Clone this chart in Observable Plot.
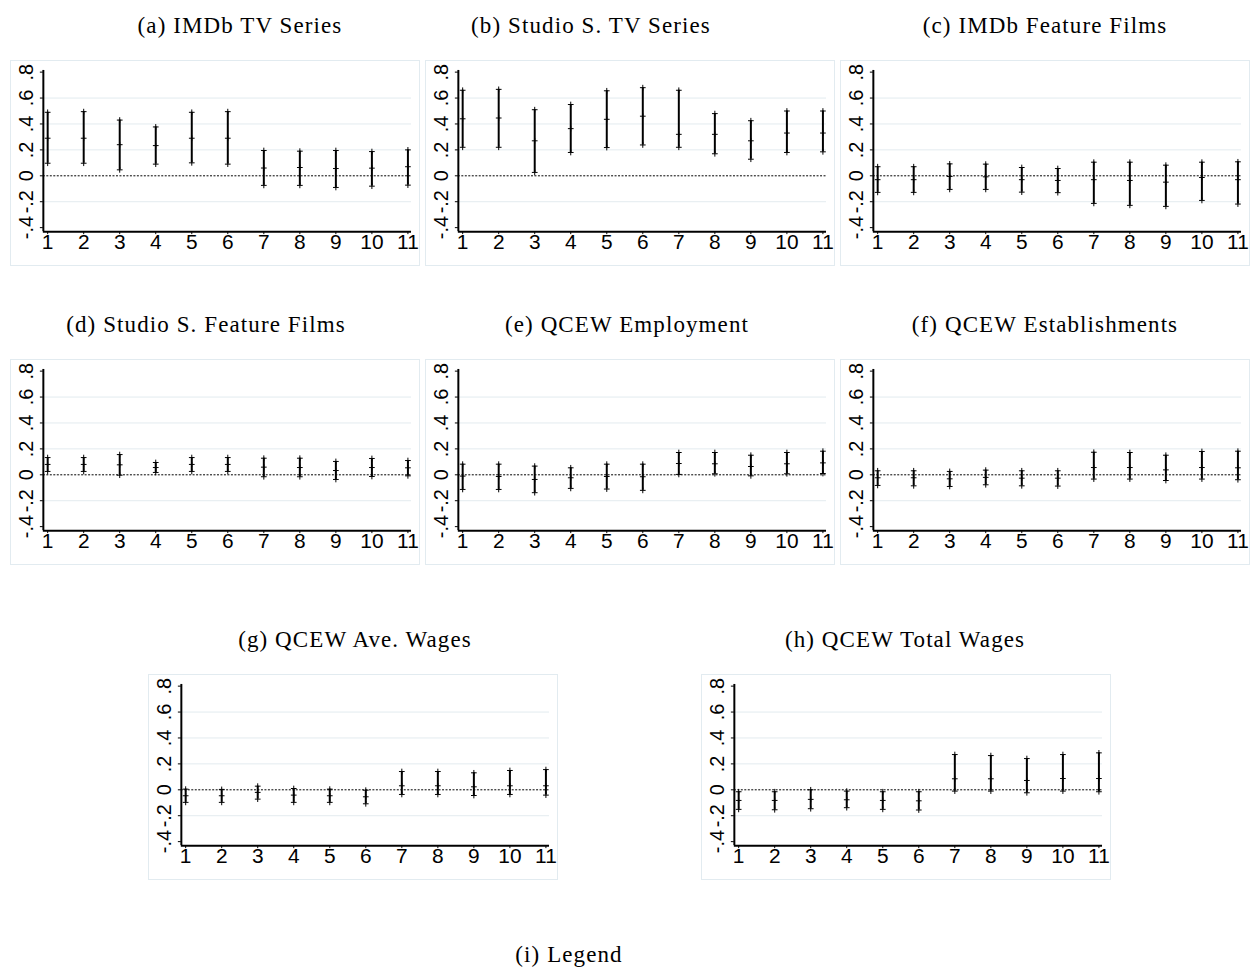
<!DOCTYPE html>
<html lang="en">
  <head>
    <meta charset="UTF-8" />
    <title>Event study panels</title>
    <style>
      body { margin: 0; background: #fff; }
      #page { position: relative; width: 1251px; height: 970px; }
      .panel { position: absolute; width: 408px; height: 204px; border: 1px solid #e2ebf0; }
      .panel svg { display: block; }
      #titles { position: absolute; left: 0; top: 0; pointer-events: none; }
    </style>
  </head>
  <body>
    <div id="page"></div>

    <script src="https://cdn.jsdelivr.net/npm/d3@7"></script>
    <script src="https://cdn.jsdelivr.net/npm/@observablehq/plot@0.6"></script>

    <script>
      // x categories and y ticks
      const periods = [1, 2, 3, 4, 5, 6, 7, 8, 9, 10, 11];
      const yTicks = [-0.4, -0.2, 0, 0.2, 0.4, 0.6, 0.8];
      const yTickLabels = ["-.4", "-.2", "0", ".2", ".4", ".6", ".8"];
      const gridValues = [-0.2, 0.2, 0.4, 0.6];

      // (a) IMDb TV Series
      const imdbTvEst = [0.29, 0.29, 0.24, 0.233, 0.29, 0.29, 0.06, 0.064, 0.056, 0.059, 0.07];
      const imdbTvLo = [0.097, 0.097, 0.046, 0.09, 0.10, 0.09, -0.074, -0.074, -0.09, -0.08, -0.072];
      const imdbTvHi = [0.49, 0.495, 0.43, 0.377, 0.49, 0.495, 0.195, 0.19, 0.195, 0.187, 0.20];

      // (b) Studio S. TV Series
      const studioTvEst = [0.44, 0.446, 0.27, 0.364, 0.436, 0.46, 0.32, 0.32, 0.27, 0.33, 0.33];
      const studioTvLo = [0.22, 0.22, 0.026, 0.18, 0.218, 0.238, 0.22, 0.17, 0.128, 0.18, 0.185];
      const studioTvHi = [0.66, 0.667, 0.51, 0.55, 0.656, 0.68, 0.66, 0.48, 0.425, 0.50, 0.50];

      // (c) IMDb Feature Films
      const imdbFilmEst = [-0.03, -0.03, -0.005, -0.008, -0.03, -0.036, -0.03, -0.036, -0.049, -0.013, -0.03];
      const imdbFilmLo = [-0.128, -0.128, -0.105, -0.105, -0.126, -0.13, -0.213, -0.228, -0.236, -0.19, -0.218];
      const imdbFilmHi = [0.07, 0.07, 0.092, 0.09, 0.064, 0.056, 0.105, 0.105, 0.082, 0.105, 0.108];

      // (d) Studio S. Feature Films
      const studioFilmEst = [0.08, 0.08, 0.077, 0.056, 0.08, 0.08, 0.059, 0.056, 0.033, 0.056, 0.054];
      const studioFilmLo = [0.026, 0.026, -0.003, 0.018, 0.026, 0.026, -0.015, -0.015, -0.036, -0.013, -0.008];
      const studioFilmHi = [0.133, 0.133, 0.156, 0.095, 0.133, 0.133, 0.128, 0.128, 0.103, 0.126, 0.11];

      // (e) QCEW Employment
      const employEst = [-0.01, -0.013, -0.036, -0.023, -0.013, -0.015, 0.087, 0.085, 0.064, 0.085, 0.092];
      const employLo = [-0.113, -0.113, -0.138, -0.105, -0.11, -0.12, 0.003, 0.008, -0.008, 0.008, 0.01];
      const employHi = [0.082, 0.082, 0.067, 0.054, 0.082, 0.082, 0.172, 0.172, 0.151, 0.172, 0.182];

      // (f) QCEW Establishments
      const estabEst = [-0.023, -0.023, -0.031, -0.02, -0.026, -0.026, 0.056, 0.056, 0.038, 0.056, 0.054];
      const estabLo = [-0.082, -0.085, -0.09, -0.077, -0.085, -0.087, -0.033, -0.033, -0.044, -0.033, -0.038];
      const estabHi = [0.031, 0.031, 0.026, 0.036, 0.031, 0.031, 0.174, 0.172, 0.151, 0.18, 0.182];

      // (g) QCEW Ave. Wages
      const aveWageEst = [-0.046, -0.046, -0.02, -0.041, -0.046, -0.054, 0.031, 0.031, 0.023, 0.031, 0.031];
      const aveWageLo = [-0.097, -0.097, -0.072, -0.097, -0.097, -0.108, -0.036, -0.036, -0.044, -0.036, -0.041];
      const aveWageHi = [0.005, 0.003, 0.028, 0.01, 0.005, -0.003, 0.141, 0.141, 0.131, 0.149, 0.156];

      // (h) QCEW Total Wages
      const totWageEst = [-0.082, -0.082, -0.074, -0.077, -0.082, -0.085, 0.085, 0.085, 0.072, 0.087, 0.087];
      const totWageLo = [-0.151, -0.154, -0.146, -0.138, -0.151, -0.156, -0.01, -0.01, -0.023, -0.01, -0.015];
      const totWageHi = [-0.015, -0.015, 0.0, -0.01, -0.015, -0.015, 0.272, 0.264, 0.241, 0.272, 0.285];

      const titles = [
        "(a) IMDb TV Series", "(b) Studio S. TV Series", "(c) IMDb Feature Films",
        "(d) Studio S. Feature Films", "(e) QCEW Employment", "(f) QCEW Establishments",
        "(g) QCEW Ave. Wages", "(h) QCEW Total Wages"
      ];

      const series = [
        [imdbTvEst, imdbTvLo, imdbTvHi],
        [studioTvEst, studioTvLo, studioTvHi],
        [imdbFilmEst, imdbFilmLo, imdbFilmHi],
        [studioFilmEst, studioFilmLo, studioFilmHi],
        [employEst, employLo, employHi],
        [estabEst, estabLo, estabHi],
        [aveWageEst, aveWageLo, aveWageHi],
        [totWageEst, totWageLo, totWageHi]
      ];

      // panel boxes (left, top) and title centre x
      const boxes = [
        [10, 60, 240], [425, 60, 591], [840, 60, 1045],
        [10, 359, 206], [425, 359, 627], [840, 359, 1045],
        [148, 674, 355], [701, 674, 905]
      ];

      const xMin = 0.88, xMax = 11.1;
      const yMin = -0.431, yMax = 0.813;

      function panel(est, lo, hi) {
        const rows = periods.map((t, i) => ({t, est: est[i], lo: lo[i], hi: hi[i]}));
        return Plot.plot({
          width: 410,
          height: 206,
          marginLeft: 33,
          marginTop: 10,
          marginBottom: 34,
          marginRight: 7,
          style: {fontFamily: "'Liberation Sans', Arial, sans-serif", background: "transparent", overflow: "visible"},
          x: {domain: [xMin, xMax], axis: null, label: null},
          y: {domain: [yMin, yMax], axis: null, label: null},
          marks: [
            Plot.ruleY(gridValues, {stroke: "#e3ebef", strokeWidth: 1}),
            Plot.ruleY([0], {stroke: "#000", strokeWidth: 1, strokeDasharray: "2,1.5"}),
            Plot.ruleX(rows, {x: "t", y1: "lo", y2: "hi", strokeWidth: 2}),
            Plot.dot(rows, {x: "t", y: "lo", symbol: "plus", r: 2, stroke: "#000", strokeWidth: 1}),
            Plot.dot(rows, {x: "t", y: "hi", symbol: "plus", r: 2, stroke: "#000", strokeWidth: 1}),
            Plot.dot(rows, {x: "t", y: "est", symbol: "plus", r: 2, stroke: "#000", strokeWidth: 1}),
            Plot.ruleX([xMin], {strokeWidth: 2}),
            Plot.ruleY([yMin], {strokeWidth: 2}),
            Plot.axisX({ticks: periods, label: null, tickSize: 3, tickPadding: 0, fontSize: 21, tickFormat: d => String(d)}),
            Plot.axisY({
              ticks: yTicks, label: null, tickSize: 3, tickRotate: -90, tickPadding: 7, fontSize: 20,
              tickFormat: d => yTickLabels[yTicks.findIndex(v => Math.abs(v - d) < 1e-9)]
            })
          ]
        });
      }

      const page = document.querySelector("#page");

      series.forEach(([est, lo, hi], i) => {
        const div = document.createElement("div");
        div.className = "panel";
        div.style.left = boxes[i][0] + "px";
        div.style.top = boxes[i][1] + "px";
        const chart = panel(est, lo, hi);
        chart.style.margin = "-1px 0 0 -1px";
        div.append(chart);
        page.append(div);
      });

      // captions above each panel, plus the legend caption
      const svg = d3.create("svg").attr("id", "titles").attr("width", 1251).attr("height", 970);
      const caps = titles.map((t, i) => ({text: t, x: boxes[i][2], y: boxes[i][1] - 27}));
      caps.push({text: "(i) Legend", x: 569, y: 962});
      svg.selectAll("text")
        .data(caps)
        .join("text")
        .attr("x", d => d.x)
        .attr("y", d => d.y)
        .attr("text-anchor", "middle")
        .attr("font-family", "'Liberation Serif', 'Times New Roman', serif")
        .attr("font-size", 23)
        .attr("letter-spacing", 1.1)
        .text(d => d.text);
      page.append(svg.node());
    </script>
  </body>
</html>
